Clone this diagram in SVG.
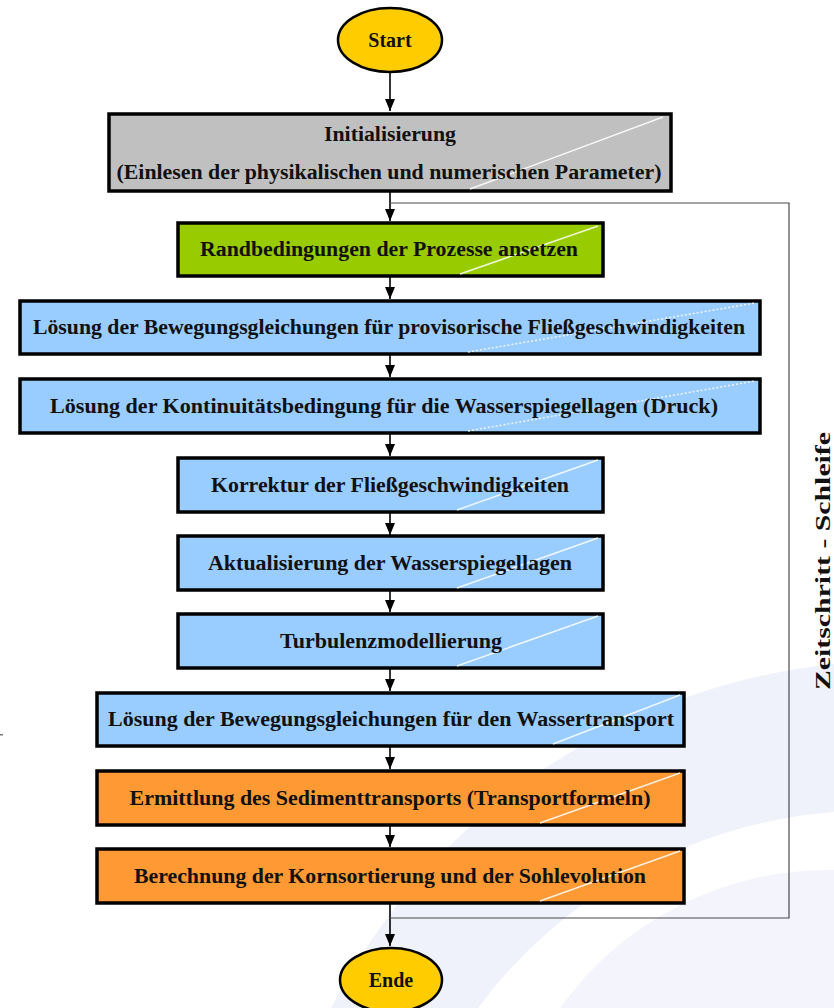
<svg xmlns="http://www.w3.org/2000/svg" width="834" height="1008" viewBox="0 0 834 1008">
<style>
.bx{stroke:#000;stroke-width:3.5}
.t{font-family:"Liberation Serif","Times New Roman",serif;font-weight:bold;font-size:20px;fill:#111;text-anchor:middle}
.hl{stroke:#fff;stroke-width:1.5;fill:none;opacity:0.85}
.hd{stroke:#fff;stroke-width:1.5;fill:none;stroke-dasharray:2 2;opacity:0.85}
.c{stroke:#000;stroke-width:1.6;fill:none}
.loop{stroke:#4a4a4a;stroke-width:1.2;fill:none}
</style>
<defs>
<marker id="ah" viewBox="0 0 12 10" refX="12" refY="5" markerWidth="12" markerHeight="10" markerUnits="userSpaceOnUse" orient="auto">
<path d="M0,0 L12,5 L0,10 Z" fill="#000"/>
</marker>
</defs>
<rect width="834" height="1008" fill="#fff"/>
<path d="M331,1008 A640,640 0 0 1 834,664 L834,812 A490,490 0 0 0 478,1008 Z" fill="#f0f2fb"/>
<path d="M560,1008 A330,330 0 0 1 834,870 L834,1008 Z" fill="#f4f5fc"/>
<rect x="0" y="734" width="3" height="1.5" fill="#777"/>

<g id="connectors">
<line class="c" x1="390" y1="72" x2="390" y2="111" marker-end="url(#ah)"/>
<line class="c" x1="390" y1="192" x2="390" y2="221" marker-end="url(#ah)"/>
<line class="c" x1="390" y1="277" x2="390" y2="299" marker-end="url(#ah)"/>
<line class="c" x1="390" y1="355" x2="390" y2="377" marker-end="url(#ah)"/>
<line class="c" x1="390" y1="434" x2="390" y2="456" marker-end="url(#ah)"/>
<line class="c" x1="390" y1="513" x2="390" y2="535" marker-end="url(#ah)"/>
<line class="c" x1="390" y1="591" x2="390" y2="612" marker-end="url(#ah)"/>
<line class="c" x1="390" y1="669" x2="390" y2="691" marker-end="url(#ah)"/>
<line class="c" x1="390" y1="747" x2="390" y2="769" marker-end="url(#ah)"/>
<line class="c" x1="390" y1="826" x2="390" y2="847" marker-end="url(#ah)"/>
<line class="c" x1="390" y1="904" x2="390" y2="946" marker-end="url(#ah)"/>
<polyline class="loop" points="390,918 789,918 789,203 390,203"/>
</g>

<g id="start">
<ellipse cx="390" cy="40" rx="52" ry="32" fill="#ffcc00" stroke="#000" stroke-width="2.5"/>
<text class="t" x="390" y="47" font-size="21">Start</text>
</g>

<g id="init">
<rect class="bx" x="109" y="114" width="562" height="77" fill="#c0c0c0"/>
<line class="hl" x1="470" y1="189" x2="663" y2="117"/>
<text class="t" x="390" y="141" textLength="132" lengthAdjust="spacingAndGlyphs">Initialisierung</text>
<text class="t" x="389" y="179" textLength="545" lengthAdjust="spacingAndGlyphs">(Einlesen der physikalischen und numerischen Parameter)</text>
</g>

<g id="rand">
<rect class="bx" x="178" y="223" width="425" height="53" fill="#99cc00"/>
<line class="hl" x1="460" y1="274" x2="598" y2="226"/>
<text class="t" x="389" y="256" textLength="378" lengthAdjust="spacingAndGlyphs">Randbedingungen der Prozesse ansetzen</text>
</g>

<g id="bew1">
<rect class="bx" x="20" y="301" width="740" height="53" fill="#99ccff"/>
<line class="hd" x1="468" y1="352" x2="755" y2="303"/>
<text class="t" x="389" y="334" textLength="712" lengthAdjust="spacingAndGlyphs">Lösung der Bewegungsgleichungen für provisorische Fließgeschwindigkeiten</text>
</g>

<g id="konti">
<rect class="bx" x="20" y="379" width="740" height="54" fill="#99ccff"/>
<line class="hd" x1="468" y1="431" x2="755" y2="381"/>
<text class="t" x="384" y="413" textLength="668" lengthAdjust="spacingAndGlyphs">Lösung der Kontinuitätsbedingung für die Wasserspiegellagen (Druck)</text>
</g>

<g id="korr">
<rect class="bx" x="178" y="458" width="425" height="54" fill="#99ccff"/>
<line class="hl" x1="457" y1="510" x2="598" y2="460"/>
<text class="t" x="390" y="492" textLength="358" lengthAdjust="spacingAndGlyphs">Korrektur der Fließgeschwindigkeiten</text>
</g>

<g id="akt">
<rect class="bx" x="178" y="536" width="425" height="54" fill="#99ccff"/>
<line class="hl" x1="457" y1="588" x2="598" y2="538"/>
<text class="t" x="390" y="570" textLength="364" lengthAdjust="spacingAndGlyphs">Aktualisierung der Wasserspiegellagen</text>
</g>

<g id="turb">
<rect class="bx" x="178" y="614" width="425" height="54" fill="#99ccff"/>
<line class="hl" x1="457" y1="666" x2="598" y2="616"/>
<text class="t" x="391" y="648" textLength="222" lengthAdjust="spacingAndGlyphs">Turbulenzmodellierung</text>
</g>

<g id="wasser">
<rect class="bx" x="97" y="693" width="587" height="53" fill="#99ccff"/>
<line class="hl" x1="553" y1="744" x2="680" y2="695"/>
<text class="t" x="391" y="726" textLength="566" lengthAdjust="spacingAndGlyphs">Lösung der Bewegungsgleichungen für den Wassertransport</text>
</g>

<g id="sed">
<rect class="bx" x="97" y="771" width="587" height="54" fill="#ff9933"/>
<line class="hl" x1="540" y1="823" x2="680" y2="773"/>
<text class="t" x="390" y="805" textLength="521" lengthAdjust="spacingAndGlyphs">Ermittlung des Sedimenttransports (Transportformeln)</text>
</g>

<g id="korn">
<rect class="bx" x="97" y="849" width="587" height="54" fill="#ff9933"/>
<line class="hl" x1="540" y1="901" x2="680" y2="851"/>
<text class="t" x="390" y="883" textLength="512" lengthAdjust="spacingAndGlyphs">Berechnung der Kornsortierung und der Sohlevolution</text>
</g>

<g id="ende">
<ellipse cx="391" cy="980" rx="51" ry="32" fill="#ffcc00" stroke="#000" stroke-width="2.5"/>
<text class="t" x="391" y="987" font-size="21">Ende</text>
</g>

<g id="label">
<text class="t" transform="translate(830,561) rotate(-90)" x="0" y="0" font-size="26" fill="#000" textLength="258" lengthAdjust="spacingAndGlyphs">Zeitschritt - Schleife</text>
</g>
</svg>
